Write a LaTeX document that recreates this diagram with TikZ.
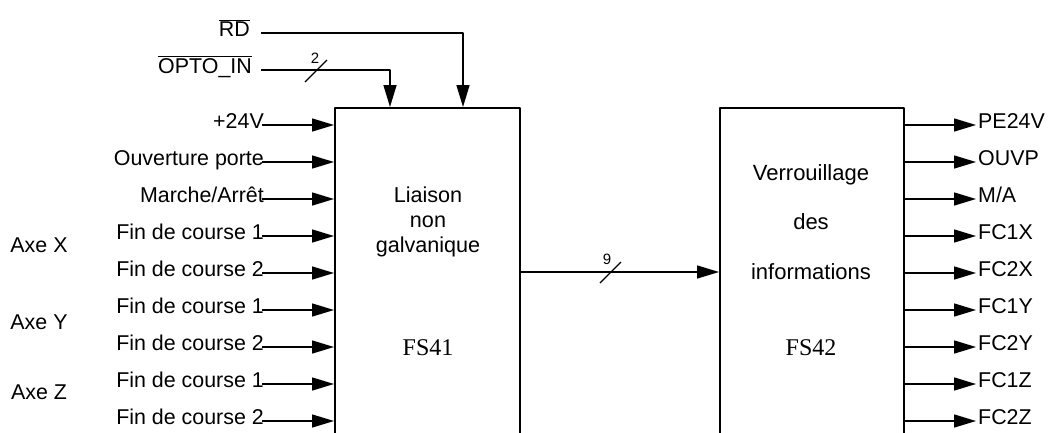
\documentclass[tikz,border=0pt]{standalone}
\usepackage{fontspec}
\setmainfont{Liberation Sans}
\newfontfamily\timesfont{Liberation Serif}
\usetikzlibrary{arrows.meta}
\begin{document}
\begin{tikzpicture}[x=1pt,y=-1pt,line join=round,>={Triangle[length=22pt,width=13pt]},
	every node/.style={inner sep=0pt,font=\fontsize{21.4}{25}\selectfont},
	sig/.style={->,line width=1.5pt},
	bloc/.style={draw,line width=1.5pt,anchor=north west,minimum width=185pt,minimum height=360pt},
	petit/.style={font=\fontsize{15}{17}\selectfont}]
	\useasboundingbox (0,0) rectangle (1050,432);
	% blocs
	\node[bloc] (b1) at (334,107) {};
	\node[bloc,minimum width=184pt] (b2) at (719,107) {};
	\node[align=center,font=\fontsize{21.6}{25}\selectfont] (t1) at (428,222) {Liaison\\non\\galvanique};
	\node[font=\timesfont\fontsize{24}{28}\selectfont] (fs41) at (428,348) {FS41};
	\node[align=center,font=\fontsize{22}{49.5}\selectfont] (t2) at (811,222) {Verrouillage\\des\\informations};
	\node[font=\timesfont\fontsize{24}{28}\selectfont] (fs42) at (811,348) {FS42};
	% entrees
	\foreach \txt [count=\i] in {+24V,Ouverture porte,Marche/Arrêt,Fin de course 1,Fin de course 2,Fin de course 1,Fin de course 2,Fin de course 1,Fin de course 2}{
		\node[anchor=base east] (in\i) at (264,91+37*\i) {\txt};
		\draw[sig] ([xshift=-2pt,yshift=3pt]in\i.base east) -- ([yshift=3pt]in\i.base east -| b1.west);
	}
	\node (axeX) at (39,245) {Axe X};
	\node (axeY) at (39,322) {Axe Y};
	\node (axeZ) at (39,392) {Axe Z};
	% RD et OPTO_IN
	\node[anchor=base east] (rd) at (250,36) {$\overline{\hbox{RD}}$};
	\node[anchor=base east] (opto) at (252,73) {$\overline{\hbox{OPTO\_IN}}$};
	\draw[sig] ([xshift=11pt,yshift=3pt]rd.base east) -| ([xshift=129pt]b1.north west);
	\draw[sig] ([xshift=9pt,yshift=3pt]opto.base east) -| ([xshift=56pt]b1.north west);
	\draw[line width=1.3pt] (305,82) -- (327,60);
	\node[petit] (n2) at (315,58) {2};
	% bus
	\coordinate (bus) at (519,272);
	\draw[sig] (bus) -- (bus -| b2.west);
	\draw[line width=1.3pt] (600,283) -- (621,262);
	\node[petit] (n9) at (607,259) {9};
	% sorties
	\foreach \txt [count=\i] in {PE24V,OUVP,M/A,FC1X,FC2X,FC1Y,FC2Y,FC1Z,FC2Z}{
		\coordinate (p\i) at (976,88+37*\i);
		\draw[sig] (p\i -| b2.east) -- (p\i);
		\node[anchor=west] (out\i) at ([xshift=2pt,yshift=4pt]p\i) {\txt};
	}
\end{tikzpicture}
\end{document}
